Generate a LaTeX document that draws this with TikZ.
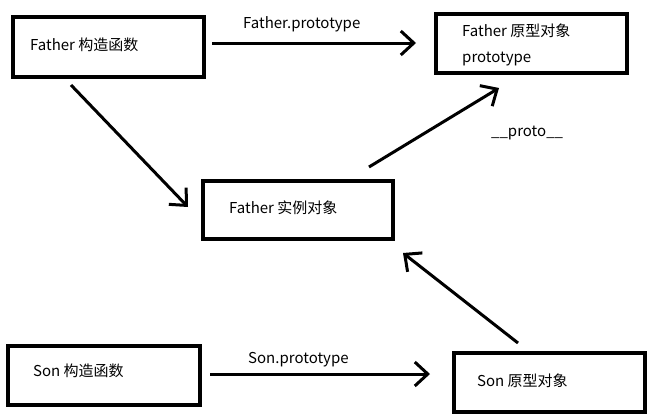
\documentclass[tikz,border=0pt]{standalone}
\usepackage{fontspec}
\setmainfont{Noto Sans CJK SC}
\usetikzlibrary{arrows.meta}
\begin{document}
\begin{tikzpicture}[x=1pt,y=-1pt,
  box/.style={draw=black,line width=4pt,inner sep=0pt,anchor=north west},
  txt/.style={anchor=base west,inner sep=0pt,font=\fontsize{15}{18}\selectfont},
  arr/.style={line width=3pt,-{Straight Barb[length=13pt,width=24pt,line width=3pt]}}]
\useasboundingbox[fill=white] (0,0) rectangle (651,418);
% boxes
\node[box,minimum width=191pt,minimum height=60pt] (fc) at (11,15) {};
\node[box,minimum width=191pt,minimum height=59pt] (fp) at (434,12) {};
\node[box,minimum width=190pt,minimum height=58pt] (fi) at (201,179) {};
\node[box,minimum width=192pt,minimum height=59pt] (sc) at (6,344) {};
\node[box,minimum width=191pt,minimum height=59pt] (sp) at (452,351) {};
% texts
\node[txt] (tfc) at (30,50) {Father 构造函数};
\node[txt] (tfp1) at (462,36) {Father 原型对象};
\node[txt] (tfp2) at (462,62) {prototype};
\node[txt] (tfi) at (229,213) {Father 实例对象};
\node[txt] (tsc) at (33,376) {Son 构造函数};
\node[txt] (tsp) at (477,386) {Son 原型对象};
% labels
\node[txt] (lfp) at (243,28) {Father.prototype};
\node[txt] (lpr) at (491,136) {\_\_proto\_\_};
\node[txt] (lsp) at (248,363) {Son.prototype};
% arrow end points
\coordinate (a1s) at (212,43);
\coordinate (a1e) at (416,43);
\coordinate (a2s) at (71,85);
\coordinate (a2e) at (188,207);
\coordinate (a3s) at (369,167);
\coordinate (a3e) at (499,88);
\coordinate (a4s) at (210,374);
\coordinate (a4e) at (430,374);
\coordinate (a5s) at (518,343);
\coordinate (a5e) at (403,253);
\draw[arr] (a1s) -- (a1e);
\draw[arr] (a2s) -- (a2e);
\draw[arr] (a3s) -- (a3e);
\draw[arr] (a4s) -- (a4e);
\draw[arr] (a5s) -- (a5e);
\end{tikzpicture}
\end{document}
